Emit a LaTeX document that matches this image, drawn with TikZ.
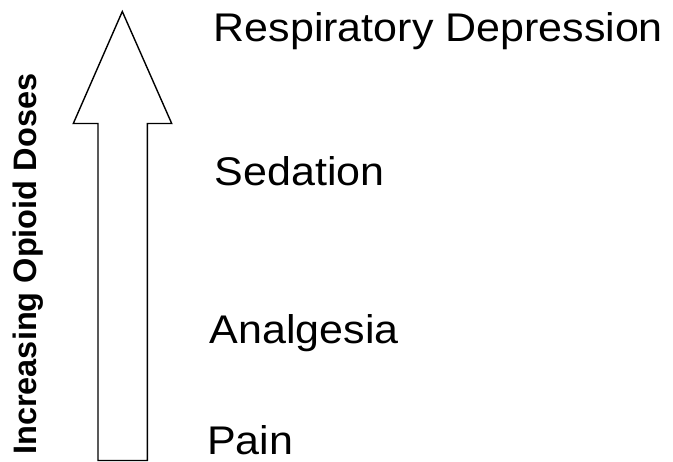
\documentclass[tikz,border=0pt]{standalone}
\usepackage{fontspec}
\setmainfont{Liberation Sans}
\newcommand\widetext[1]{\scalebox{1.075}[1]{#1}}
\begin{document}
\begin{tikzpicture}[x=1pt,y=-1pt,
  lbl/.style={anchor=base west,inner sep=0pt,font=\fontsize{40}{48}\selectfont},
  axislbl/.style={anchor=base west,inner sep=0pt,rotate=90,font=\fontsize{32.5}{39}\selectfont\bfseries},
  bigarrow/.style={draw=black,line width=1.4pt,fill=white,line join=miter}]
\useasboundingbox (0,0) rectangle (673,462);
\draw[bigarrow] (98,460.5) -- (98,123.5) -- (73.3,123.5) -- (122.3,11.5) -- (171.7,123.5) -- (147.3,123.5) -- (147.3,460.5) -- cycle;
\node[lbl] (resp) at (213.5,41.7) {\widetext{Respiratory Depression}};
\node[lbl] (sed) at (214.5,186) {\widetext{Sedation}};
\node[lbl] (anal) at (209.5,343.3) {\widetext{Analgesia}};
\node[lbl] (pain) at (207,455) {\widetext{Pain}};
\node[axislbl] (doses) at (36.7,455) {Increasing Opioid Doses};
\end{tikzpicture}
\end{document}
